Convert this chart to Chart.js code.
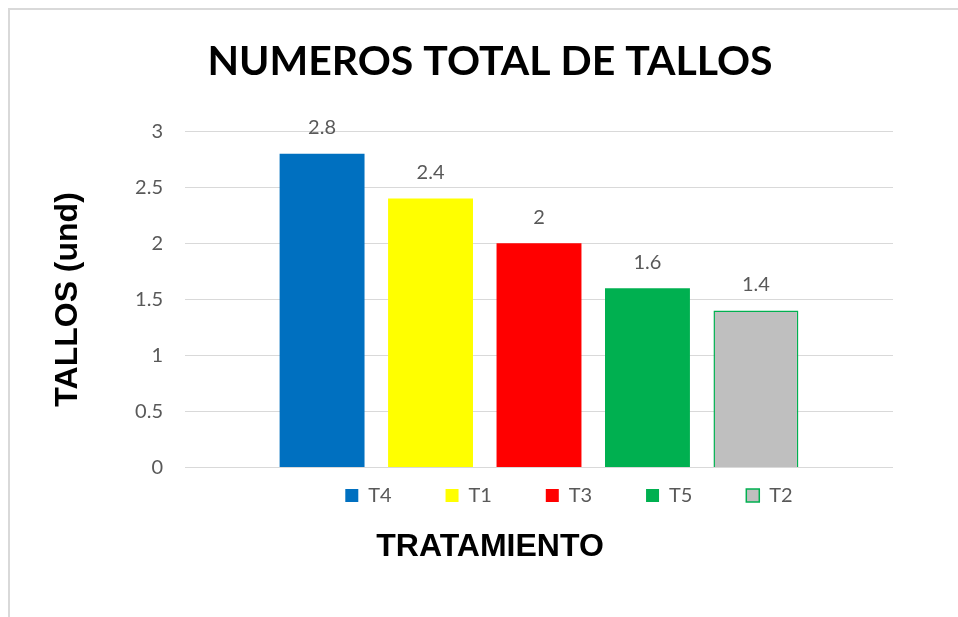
<!DOCTYPE html>
<html>
<head>
<meta charset="utf-8">
<script src="https://cdn.jsdelivr.net/npm/chart.js@4"></script>
<style>
  body { margin: 0; background: #fff; }
  #frame {
    position: absolute; left: 8px; top: 8px; width: 950px; height: 609px;
    border-top: 2px solid #d9d9d9; border-left: 2px solid #d9d9d9;
  }
  #wrap { position: absolute; left: 0; top: 0; width: 948px; height: 607px; }
</style>
</head>
<body>
<div id="frame"><div id="wrap"><canvas id="barChart"></canvas></div></div>
<script>
var series = ["T4", "T1", "T3", "T5", "T2"];
var values = [2.8, 2.4, 2, 1.6, 1.4];
var fills = ["#0070c0", "#ffff00", "#ff0000", "#00b050", "#bfbfbf"];
var borders = ["#0070c0", "#ffff00", "#ff0000", "#00b050", "#00b050"];

var gray = "#595959";

var datasets = [];
for (var i = 0; i < series.length; i++) {
    datasets.push({
        label: series[i],
        data: [values[i]],
        backgroundColor: fills[i],
        borderColor: borders[i],
        borderWidth: i == 4 ? 1.5 : 0
    });
}

// value above each bar
var valueLabels = {
    id: "valueLabels",
    afterDatasetsDraw: function (chart) {
        var ctx = chart.ctx;
        ctx.save();
        ctx.font = "20px Lato";
        ctx.fillStyle = gray;
        ctx.textAlign = "center";
        ctx.textBaseline = "middle";
        chart.data.datasets.forEach(function (ds, i) {
            chart.getDatasetMeta(i).data.forEach(function (bar, j) {
                ctx.fillText(String(ds.data[j]), bar.x, bar.y - 26);
            });
        });
        ctx.restore();
    }
};

// excel leaves the legend a bit right of the plot centre
var legendShift = {
    id: "legendShift",
    afterLayout: function (chart) {
        chart.legend.left += 30;
        chart.legend.right += 30;
    }
};

var ctx = document.getElementById("barChart").getContext("2d");
var barChart = new Chart(ctx, {
    type: "bar",
    data: { labels: [""], datasets: datasets },
    plugins: [valueLabels, legendShift],
    options: {
        responsive: true,
        maintainAspectRatio: false,
        animation: false,
        layout: { padding: { left: 12, right: 0, top: 0, bottom: 0 } },
        datasets: { bar: { categoryPercentage: 0.766, barPercentage: 0.783 } },
        scales: {
            x: { display: false },
            y: {
                min: 0,
                max: 3,
                afterFit: function (axis) { axis.width = 163; },
                ticks: {
                    stepSize: 0.5,
                    padding: 22,
                    color: gray,
                    font: { family: "Lato", size: 20 },
                    callback: function (v) { return String(v); }
                },
                grid: { color: "#d9d9d9", drawTicks: false },
                border: { display: false },
                title: {
                    display: true,
                    text: "TALLOS (und)",
                    color: "#000",
                    font: { family: "Liberation Sans", size: 32, weight: "bold" },
                    padding: { top: 27, bottom: 0 }
                }
            },
            // empty space right of the plot, like the excel chart
            right: {
                position: "right",
                afterFit: function (axis) { axis.width = 65; },
                ticks: { display: false },
                grid: { display: false },
                border: { display: false }
            }
        },
        plugins: {
            title: {
                display: true,
                text: "NUMEROS TOTAL DE TALLOS",
                color: "#000",
                font: { family: "Lato", size: 41, weight: "bold" },
                padding: { top: 27, bottom: 45 }
            },
            subtitle: {
                display: true,
                position: "bottom",
                text: "TRATAMIENTO",
                color: "#000",
                font: { family: "Liberation Sans", size: 32, weight: "bold" },
                padding: { top: 12, bottom: 51 }
            },
            legend: {
                position: "bottom",
                fullSize: false,
                labels: {
                    color: gray,
                    font: { family: "Lato", size: 20 },
                    boxWidth: 13,
                    boxHeight: 13,
                    padding: 18,
                    generateLabels: function (chart) {
                        var items = Chart.defaults.plugins.legend.labels.generateLabels(chart);
                        items.forEach(function (it, k) {
                            if (k < items.length - 1) it.text = it.text + "       ";
                        });
                        return items;
                    }
                }
            },
            tooltip: { enabled: false }
        }
    }
});
</script>
</body>
</html>
